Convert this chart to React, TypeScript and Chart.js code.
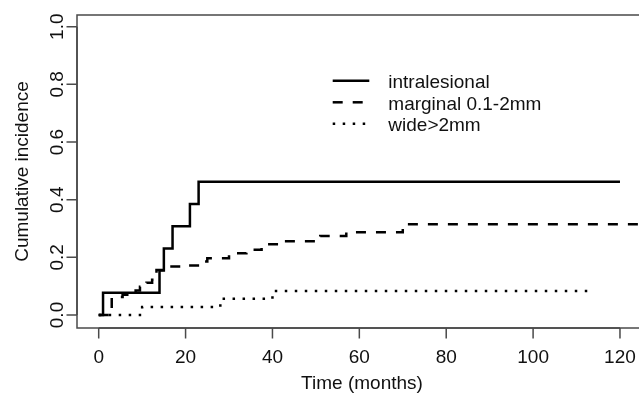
import React, { useEffect, useRef } from "react";
import { Chart, registerables } from "chart.js";

Chart.register(...registerables);

// ---- data ----
const seriesLabels = ["intralesional", "marginal 0.1-2mm", "wide>2mm"];

const intraTimes = [0, 1, 14, 15, 17, 21, 23, 120];
const intraValues = [0, 0.077, 0.154, 0.231, 0.308, 0.385, 0.462, 0.462];

const marginalTimes = [0, 3, 5.5, 8.5, 9.5, 11, 12.3, 12.8, 13.3, 15.5, 20, 24, 25, 30, 34, 37.5, 41, 51, 57, 70, 130];
const marginalValues = [0, 0.062, 0.07, 0.085, 0.098, 0.112, 0.122, 0.14, 0.156, 0.168, 0.172, 0.186, 0.197, 0.214, 0.226, 0.245, 0.256, 0.274, 0.287, 0.315, 0.315];

const wideTimes = [0, 10, 28, 40, 113];
const wideValues = [0, 0.028, 0.056, 0.083, 0.083];

const xTicks = [0, 20, 40, 60, 80, 100, 120];
const xTickLabels = ["0", "20", "40", "60", "80", "100", "120"];
const yTicks = [0, 0.2, 0.4, 0.6, 0.8, 1.0];
const yTickLabels = ["0.0", "0.2", "0.4", "0.6", "0.8", "1.0"];

const xTitle = "Time (months)";
const yTitle = "Cumulative incidence";

const FONT = '19px "Liberation Sans", Arial, Helvetica, sans-serif';

function toPoints(ts: number[], vs: number[]) {
  return ts.map((t, i) => ({ x: t, y: vs[i] }));
}

const rStylePlugin = {
  id: "rStyle",
  afterDraw(chart: any) {
    const { ctx, chartArea, scales } = chart;
    const xs = scales.x;
    const ys = scales.y;
    const left = chartArea.left;
    const top = chartArea.top;
    const bottom = chartArea.bottom;
    ctx.save();
    // box
    ctx.strokeStyle = "#4a4a4a";
    ctx.lineWidth = 1.5;
    ctx.setLineDash([]);
    ctx.strokeRect(left, top, chartArea.right - left + 40, bottom - top);

    // x axis
    ctx.beginPath();
    ctx.moveTo(xs.getPixelForValue(xTicks[0]), bottom);
    ctx.lineTo(xs.getPixelForValue(xTicks[xTicks.length - 1]), bottom);
    xTicks.forEach((t) => {
      const px = xs.getPixelForValue(t);
      ctx.moveTo(px, bottom);
      ctx.lineTo(px, bottom + 10.5);
    });
    // y axis
    ctx.moveTo(left, ys.getPixelForValue(yTicks[0]));
    ctx.lineTo(left, ys.getPixelForValue(yTicks[yTicks.length - 1]));
    yTicks.forEach((v) => {
      const py = ys.getPixelForValue(v);
      ctx.moveTo(left, py);
      ctx.lineTo(left - 10.5, py);
    });
    ctx.stroke();

    ctx.fillStyle = "#111";
    ctx.font = FONT;
    ctx.textAlign = "center";
    ctx.textBaseline = "alphabetic";
    xTicks.forEach((t, i) => {
      ctx.fillText(xTickLabels[i], xs.getPixelForValue(t), 362.5);
    });
    ctx.fillText(xTitle, 362, 389);

    yTicks.forEach((v, i) => {
      ctx.save();
      ctx.translate(62.5, ys.getPixelForValue(v));
      ctx.rotate(-Math.PI / 2);
      ctx.fillText(yTickLabels[i], 0, 0);
      ctx.restore();
    });
    ctx.save();
    ctx.translate(27.5, (top + bottom) / 2);
    ctx.rotate(-Math.PI / 2);
    ctx.fillText(yTitle, 0, 0);
    ctx.restore();

    // legend
    const rows = [80.7, 102.3, 123.8];
    chart.data.datasets.forEach((ds: any, i: number) => {
      const y = rows[i];
      ctx.beginPath();
      ctx.strokeStyle = ds.borderColor;
      ctx.lineWidth = ds.borderWidth;
      ctx.lineCap = "butt";
      ctx.setLineDash(ds.borderDash || []);
      ctx.moveTo(332.7, y);
      ctx.lineTo(369.3, y);
      ctx.stroke();
      ctx.setLineDash([]);
      ctx.fillStyle = "#111";
      ctx.textAlign = "left";
      ctx.fillText(ds.label, 388.3, y + 7.6);
    });
    ctx.restore();
  },
};

export default function App() {
  const ref = useRef<HTMLCanvasElement | null>(null);

  useEffect(() => {
    if (!ref.current) return;
    const common = {
      stepped: true,
      borderColor: "#000",
      borderWidth: 2.5,
      pointRadius: 0,
      fill: false,
      borderCapStyle: "butt",
      borderJoinStyle: "miter",
    };
    const chart = new Chart(ref.current, {
      type: "line",
      data: {
        datasets: [
          { ...common, label: seriesLabels[0], data: toPoints(intraTimes, intraValues), borderDash: [] },
          { ...common, label: seriesLabels[1], data: toPoints(marginalTimes, marginalValues), borderDash: [10, 10] },
          { ...common, label: seriesLabels[2], data: toPoints(wideTimes, wideValues), borderDash: [2.5, 7.5] },
        ] as any,
      },
      options: {
        responsive: false,
        animation: false,
        devicePixelRatio: 1,
        layout: { padding: { left: 77, top: 15, right: 0, bottom: 70 } },
        scales: {
          x: { type: "linear", min: -4.995, max: 124.38, display: false },
          y: { type: "linear", min: -0.0451, max: 1.0406, display: false },
        },
        plugins: {
          legend: { display: false },
          tooltip: { enabled: false },
        },
        events: [],
      },
      plugins: [rStylePlugin],
    } as any);
    return () => chart.destroy();
  }, []);

  return (
    <div style={{ position: "fixed", left: 0, top: 0, width: 639, height: 398, background: "#fff" }}>
      <canvas ref={ref} width={639} height={398} style={{ display: "block" }} />
    </div>
  );
}
